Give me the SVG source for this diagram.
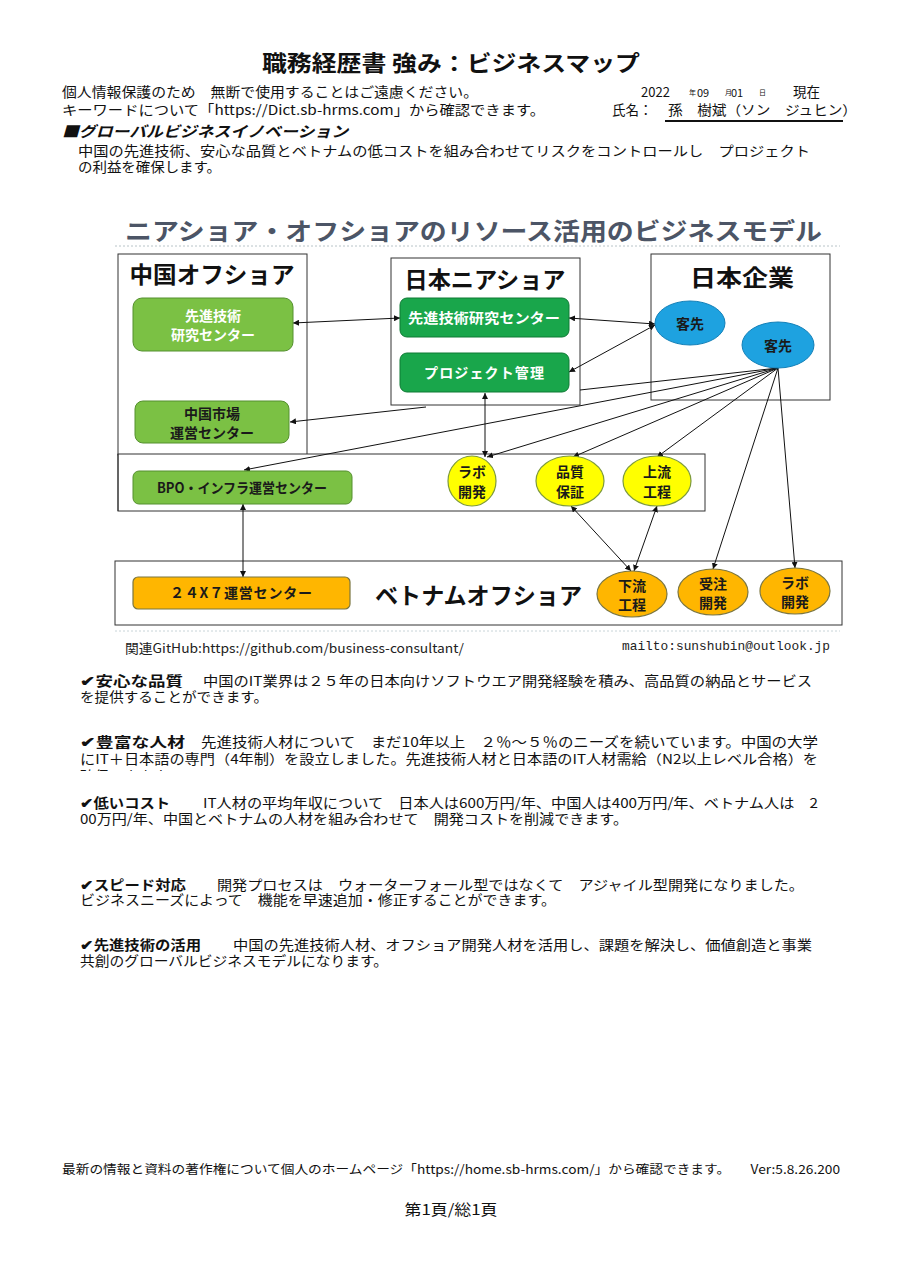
<svg xmlns="http://www.w3.org/2000/svg" width="902" height="1263" viewBox="0 0 902 1263">
  <style>
    .jp { font-family: "Noto Sans CJK JP", "Noto Sans", sans-serif; fill: #111; }
    .body { font-size: 13.5px; }
    .bold { font-weight: 700; }
    .hdr { font-size: 23px; font-weight: 700; fill: #111; }
    .box { fill: #fff; stroke: #333; stroke-width: 1; }
    .lg { fill: #7bc144; stroke: #55902f; stroke-width: 1; }
    .dg { fill: #19a64b; stroke: #0e7a34; stroke-width: 1; }
    .bl { fill: #1ea2e0; stroke: #1380b8; stroke-width: 1; }
    .ye { fill: #ffff00; stroke: #7d9a3c; stroke-width: 1.2; }
    .or { fill: #ffb600; stroke: #7b7640; stroke-width: 1.2; }
    .wt { fill: #fff; font-size: 14px; font-weight: 700; }
    .dk { fill: #1a1a1a; font-size: 14px; font-weight: 700; }
    .cn { stroke: #111; stroke-width: 1; fill: none; }
  </style>
  <defs>
    <marker id="arr" viewBox="0 0 10 10" refX="10" refY="5" markerWidth="6" markerHeight="6" markerUnits="userSpaceOnUse" orient="auto-start-reverse">
      <path d="M0,0 L10,5 L0,10 z" fill="#111"/>
    </marker>
    <clipPath id="cut3">
      <rect x="0" y="0" width="902" height="771"/>
    </clipPath>
  </defs>

  <rect width="902" height="1263" fill="#fff"/>

  <!-- page header -->
  <g id="header" class="jp">
    <text x="451" y="71" text-anchor="middle" font-size="22" font-weight="700" textLength="378" lengthAdjust="spacingAndGlyphs">職務経歴書 強み：ビジネスマップ</text>
    <text x="62" y="97" class="body" textLength="416" lengthAdjust="spacingAndGlyphs">個人情報保護のため　無断で使用することはご遠慮ください。</text>
    <text x="62" y="115" class="body" textLength="483" lengthAdjust="spacingAndGlyphs">キーワードについて「https://Dict.sb-hrms.com」から確認できます。</text>
    <text x="641" y="97" font-size="13">2022</text>
    <text x="689" y="95" font-size="7">年</text>
    <text x="697" y="97" font-size="11">09</text>
    <text x="725" y="95" font-size="7">月</text>
    <text x="731" y="97" font-size="11">01</text>
    <text x="759" y="95" font-size="7">日</text>
    <text x="793" y="97" font-size="13.5">現在</text>
    <text x="612" y="115" class="body">氏名：</text>
    <text x="668" y="115" class="body" textLength="189" lengthAdjust="spacingAndGlyphs">孫　樹斌（ソン　ジュヒン）</text>
    <line x1="665" y1="121" x2="843" y2="121" stroke="#111" stroke-width="2"/>
    <text x="62" y="137" font-size="15" font-weight="700" font-style="italic" textLength="286" lengthAdjust="spacingAndGlyphs">■グローバルビジネスイノベーション</text>
    <text x="78" y="156" class="body" textLength="732" lengthAdjust="spacingAndGlyphs">中国の先進技術、安心な品質とベトナムの低コストを組み合わせてリスクをコントロールし　プロジェクト</text>
    <text x="78" y="172" class="body" textLength="143" lengthAdjust="spacingAndGlyphs">の利益を確保します。</text>
  </g>

  <!-- diagram heading -->
  <g id="diagram-title">
    <text x="125" y="240" class="jp" font-size="24" font-weight="700" fill="#4c5566" style="fill:#4c5566" textLength="697" lengthAdjust="spacingAndGlyphs">ニアショア・オフショアのリソース活用のビジネスモデル</text>
    <line x1="115" y1="246" x2="840" y2="246" stroke="#b8c4c8" stroke-width="1" stroke-dasharray="2,2"/>
  </g>

  <!-- containers -->
  <g id="china-offshore">
    <rect class="box" x="118" y="254" width="189" height="201"/>
    <text x="212" y="283" class="jp hdr" text-anchor="middle" textLength="165" lengthAdjust="spacingAndGlyphs">中国オフショア</text>
  </g>
  <g id="china-bpo-area">
    <rect class="box" x="118" y="454" width="587" height="57"/>
    <line x1="118" y1="454" x2="118" y2="511" stroke="#333"/>
  </g>
  <g id="japan-nearshore">
    <rect class="box" x="391" y="258" width="189" height="147"/>
    <text x="485" y="288" class="jp hdr" text-anchor="middle" textLength="161" lengthAdjust="spacingAndGlyphs">日本ニアショア</text>
  </g>
  <g id="japan-company">
    <rect class="box" x="651" y="254" width="179" height="146"/>
    <text x="742" y="286" class="jp hdr" text-anchor="middle" font-size="25" textLength="104" lengthAdjust="spacingAndGlyphs">日本企業</text>
  </g>
  <g id="vietnam-offshore">
    <rect class="box" x="115" y="561" width="727" height="64"/>
    <text x="375" y="604" class="jp hdr" textLength="207" lengthAdjust="spacingAndGlyphs">ベトナムオフショア</text>
  </g>

  <!-- connectors -->
  <g id="connectors" class="cn">
    <path d="M293,323 L400,318" marker-start="url(#arr)" marker-end="url(#arr)"/>
    <path d="M569,318 L655,324" marker-start="url(#arr)" marker-end="url(#arr)"/>
    <path d="M569,372 L655,325" marker-start="url(#arr)" marker-end="url(#arr)"/>
    <path d="M778,368 L580,390 M426,407 L290,422" marker-end="url(#arr)"/>
    <path d="M778,368 L244,470" marker-end="url(#arr)"/>
    <path d="M778,368 L487,457" marker-end="url(#arr)"/>
    <path d="M778,368 L573,457" marker-end="url(#arr)"/>
    <path d="M778,368 L657,457" marker-end="url(#arr)"/>
    <path d="M778,368 L713,569" marker-end="url(#arr)"/>
    <path d="M778,368 L795,568" marker-end="url(#arr)"/>
    <path d="M485,393 L485,457" marker-start="url(#arr)" marker-end="url(#arr)"/>
    <path d="M571,506 L631,571" marker-start="url(#arr)" marker-end="url(#arr)"/>
    <path d="M657,506 L634,571" marker-start="url(#arr)" marker-end="url(#arr)"/>
    <path d="M243,504 L243,577" marker-start="url(#arr)" marker-end="url(#arr)"/>
    <path d="M774,364 L782,372" stroke-width="0"/>
  </g>

  <!-- nodes -->
  <g id="cn-research">
    <rect class="lg" x="133" y="298" width="160" height="53" rx="9"/>
    <text x="213" y="321" class="jp wt" text-anchor="middle">先進技術</text>
    <text x="213" y="340" class="jp wt" text-anchor="middle">研究センター</text>
  </g>
  <g id="cn-market">
    <rect class="lg" x="135" y="401" width="154" height="42" rx="8"/>
    <text x="212" y="419" class="jp dk" text-anchor="middle">中国市場</text>
    <text x="212" y="438" class="jp dk" text-anchor="middle">運営センター</text>
  </g>
  <g id="cn-bpo">
    <rect class="lg" x="133" y="471" width="219" height="33" rx="6"/>
    <text x="242" y="493" class="jp dk" font-weight="400" text-anchor="middle" textLength="170" lengthAdjust="spacingAndGlyphs">BPO・インフラ運営センター</text>
  </g>
  <g id="jp-research">
    <rect class="dg" x="400" y="298" width="169" height="39" rx="7"/>
    <text x="484" y="323" class="jp wt" text-anchor="middle" textLength="152" lengthAdjust="spacingAndGlyphs">先進技術研究センター</text>
  </g>
  <g id="jp-pm">
    <rect class="dg" x="400" y="353" width="169" height="39" rx="7"/>
    <text x="484" y="378" class="jp wt" text-anchor="middle" textLength="120" lengthAdjust="spacing">プロジェクト管理</text>
  </g>
  <g id="client-1">
    <ellipse class="bl" cx="690" cy="323" rx="35" ry="22"/>
    <text x="690" y="329" class="jp dk" fill="#0d1a3a" text-anchor="middle">客先</text>
  </g>
  <g id="client-2">
    <ellipse class="bl" cx="778" cy="345" rx="36" ry="23"/>
    <text x="778" y="351" class="jp dk" text-anchor="middle">客先</text>
  </g>
  <g id="cn-lab">
    <ellipse class="ye" cx="472" cy="481" rx="24" ry="25"/>
    <text x="472" y="477" class="jp dk" text-anchor="middle">ラボ</text>
    <text x="472" y="497" class="jp dk" text-anchor="middle">開発</text>
  </g>
  <g id="cn-qa">
    <ellipse class="ye" cx="570" cy="481" rx="34" ry="25"/>
    <text x="570" y="477" class="jp dk" text-anchor="middle">品質</text>
    <text x="570" y="497" class="jp dk" text-anchor="middle">保証</text>
  </g>
  <g id="cn-upstream">
    <ellipse class="ye" cx="657" cy="481" rx="34" ry="25"/>
    <text x="657" y="477" class="jp dk" text-anchor="middle">上流</text>
    <text x="657" y="497" class="jp dk" text-anchor="middle">工程</text>
  </g>
  <g id="vn-247">
    <rect class="or" x="133" y="577" width="217" height="32" rx="5"/>
    <text x="241" y="598" class="jp dk" font-weight="400" text-anchor="middle" textLength="142" lengthAdjust="spacing">２４X７運営センター</text>
  </g>
  <g id="vn-downstream">
    <ellipse class="or" cx="632" cy="594" rx="35" ry="23"/>
    <text x="632" y="591" class="jp dk" text-anchor="middle">下流</text>
    <text x="632" y="610" class="jp dk" text-anchor="middle">工程</text>
  </g>
  <g id="vn-contract">
    <ellipse class="or" cx="713" cy="592" rx="35" ry="23"/>
    <text x="713" y="589" class="jp dk" text-anchor="middle">受注</text>
    <text x="713" y="608" class="jp dk" text-anchor="middle">開発</text>
  </g>
  <g id="vn-lab">
    <ellipse class="or" cx="795" cy="591" rx="35" ry="23"/>
    <text x="795" y="588" class="jp dk" text-anchor="middle">ラボ</text>
    <text x="795" y="607" class="jp dk" text-anchor="middle">開発</text>
  </g>

  <!-- links under the diagram -->
  <g id="links">
    <line x1="115" y1="631" x2="840" y2="631" stroke="#c8d4d8" stroke-width="1" stroke-dasharray="2,2"/>
    <text x="125" y="653" class="jp" font-size="13" style="fill:#222" textLength="339" lengthAdjust="spacingAndGlyphs">関連GitHub:https://github.com/business-consultant/</text>
    <text x="622" y="650" font-family="Liberation Mono, monospace" font-size="13" fill="#222" textLength="208" lengthAdjust="spacingAndGlyphs">mailto:sunshubin@outlook.jp</text>
  </g>

  <!-- strengths -->
  <g id="strengths" class="jp">
    <text x="80" y="686" class="body bold" textLength="103" lengthAdjust="spacingAndGlyphs">✔安心な品質</text>
    <text x="203" y="686" class="body" textLength="609" lengthAdjust="spacingAndGlyphs">中国のIT業界は２５年の日本向けソフトウエア開発経験を積み、高品質の納品とサービス</text>
    <text x="80" y="702" class="body" textLength="188" lengthAdjust="spacingAndGlyphs">を提供することができます。</text>

    <text x="80" y="747" class="body bold" textLength="105" lengthAdjust="spacingAndGlyphs">✔豊富な人材</text>
    <text x="201" y="747" class="body" textLength="617" lengthAdjust="spacingAndGlyphs">先進技術人材について　まだ10年以上　２％～５％のニーズを続いています。中国の大学</text>
    <text x="80" y="764" class="body" textLength="738" lengthAdjust="spacingAndGlyphs">にIT＋日本語の専門（4年制）を設立しました。先進技術人材と日本語のIT人材需給（N2以上レベル合格）を</text>
    <text x="80" y="781" class="body" clip-path="url(#cut3)" textLength="100" lengthAdjust="spacingAndGlyphs">確保できます。</text>

    <text x="80" y="808" class="body bold" textLength="90" lengthAdjust="spacingAndGlyphs">✔低いコスト</text>
    <text x="203" y="808" class="body" textLength="615" lengthAdjust="spacingAndGlyphs">IT人材の平均年収について　日本人は600万円/年、中国人は400万円/年、ベトナム人は　2</text>
    <text x="80" y="824" class="body" textLength="548" lengthAdjust="spacingAndGlyphs">00万円/年、中国とベトナムの人材を組み合わせて　開発コストを削減できます。</text>

    <text x="80" y="890" class="body bold" textLength="106" lengthAdjust="spacingAndGlyphs">✔スピード対応</text>
    <text x="217" y="890" class="body" textLength="587" lengthAdjust="spacingAndGlyphs">開発プロセスは　ウォーターフォール型ではなくて　アジャイル型開発になりました。</text>
    <text x="80" y="905" class="body" textLength="476" lengthAdjust="spacingAndGlyphs">ビジネスニーズによって　機能を早速追加・修正することができます。</text>

    <text x="80" y="950" class="body bold" textLength="121" lengthAdjust="spacingAndGlyphs">✔先進技術の活用</text>
    <text x="233" y="950" class="body" textLength="579" lengthAdjust="spacingAndGlyphs">中国の先進技術人材、オフショア開発人材を活用し、課題を解決し、価値創造と事業</text>
    <text x="80" y="966" class="body" textLength="308" lengthAdjust="spacingAndGlyphs">共創のグローバルビジネスモデルになります。</text>
  </g>

  <!-- footer -->
  <g id="footer" class="jp">
    <text x="62" y="1174" font-size="12.5" textLength="778" lengthAdjust="spacingAndGlyphs">最新の情報と資料の著作権について個人のホームページ「https://home.sb-hrms.com/」から確認できます。　　Ver:5.8.26.200</text>
    <text x="451" y="1215" font-size="15" text-anchor="middle" textLength="93" lengthAdjust="spacingAndGlyphs">第1頁/総1頁</text>
  </g>
</svg>
